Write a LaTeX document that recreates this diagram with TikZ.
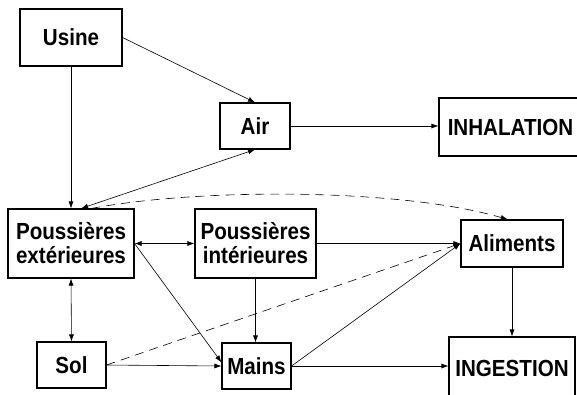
\documentclass[tikz,border=0pt]{standalone}
\usepackage{fontspec}
\setmainfont{Liberation Sans}
\usetikzlibrary{arrows.meta}
\newcommand{\tall}[1]{\scalebox{1}[1.13]{#1}}
\begin{document}
\begin{tikzpicture}[x = 1pt, y = -1pt,
		box/.style = {draw, line width = 1.1pt, inner sep = 0pt, align = center,
			font = \fontsize{20.6}{24}\selectfont\bfseries},
		link/.style = {line width = 0.6pt, -{Latex[length = 7pt, width = 5pt]}},
		twolink/.style = {line width = 0.6pt, {Latex[length = 7pt, width = 5pt]}-{Latex[length = 7pt, width = 5pt]}}]
	\useasboundingbox (0, 0) rectangle (577, 394);
	%Boxes
	\node[box, minimum width = 102pt, minimum height = 57pt] (usine) at (71, 37.5) {\tall{Usine}};
	\node[box, minimum width = 70pt, minimum height = 46pt] (air) at (255, 126) {\tall{Air}};
	\node[box, minimum width = 143pt, minimum height = 58pt] (inhal) at (510.5, 127) {\tall{INHALATION}};
	\node[box, minimum width = 126pt, minimum height = 69pt] (pext) at (71, 243.5) {\tall{Poussières}\\\tall{extérieures}};
	\node[box, minimum width = 121pt, minimum height = 69pt] (pint) at (255.5, 243.5) {\tall{Poussières}\\\tall{intérieures}};
	\node[box, minimum width = 69pt, minimum height = 46pt] (sol) at (71.5, 365) {\tall{Sol}};
	\node[box, minimum width = 69pt, minimum height = 46pt] (mains) at (256.5, 366) {\tall{Mains}};
	\node[box, minimum width = 102pt, minimum height = 47pt] (alim) at (512, 243.5) {\tall{Aliments}};
	\node[box, minimum width = 126pt, minimum height = 62pt] (inges) at (512, 368) {\tall{INGESTION}};
	%Arrows
		%top
		\draw[link] (usine.south) -- (pext.north);
		\draw[link] (usine.east) -- (air.north);
		\draw[twolink] (pext.74) -- (air.south);
		\draw[link] (air.east) -- (air.east -| inhal.west);
		\draw[link, dashed, dash pattern = on 9pt off 6pt] (pext.60) .. controls (200, 188) and (400, 188) .. (alim.100);
		%middle
		\draw[twolink] (pext.east) -- (pint.west);
		\draw[twolink] (pext.south) -- (sol.north);
		\draw[link] (pext.east) -- (mains.174);
		\draw[link] (pint.south) -- (pint.south |- mains.north);
		\draw[link] (pint.east) -- (alim.west);
		%bottom
		\draw[link] (sol.east) -- (mains.west);
		\draw[link, dashed, dash pattern = on 9pt off 6pt] (sol.east) -- (alim.west);
		\draw[link] (mains.east) -- (alim.west);
		\draw[link] (mains.east) -- (mains.east -| inges.west);
		\draw[link] (alim.south) -- (inges.north);
\end{tikzpicture}
\end{document}
